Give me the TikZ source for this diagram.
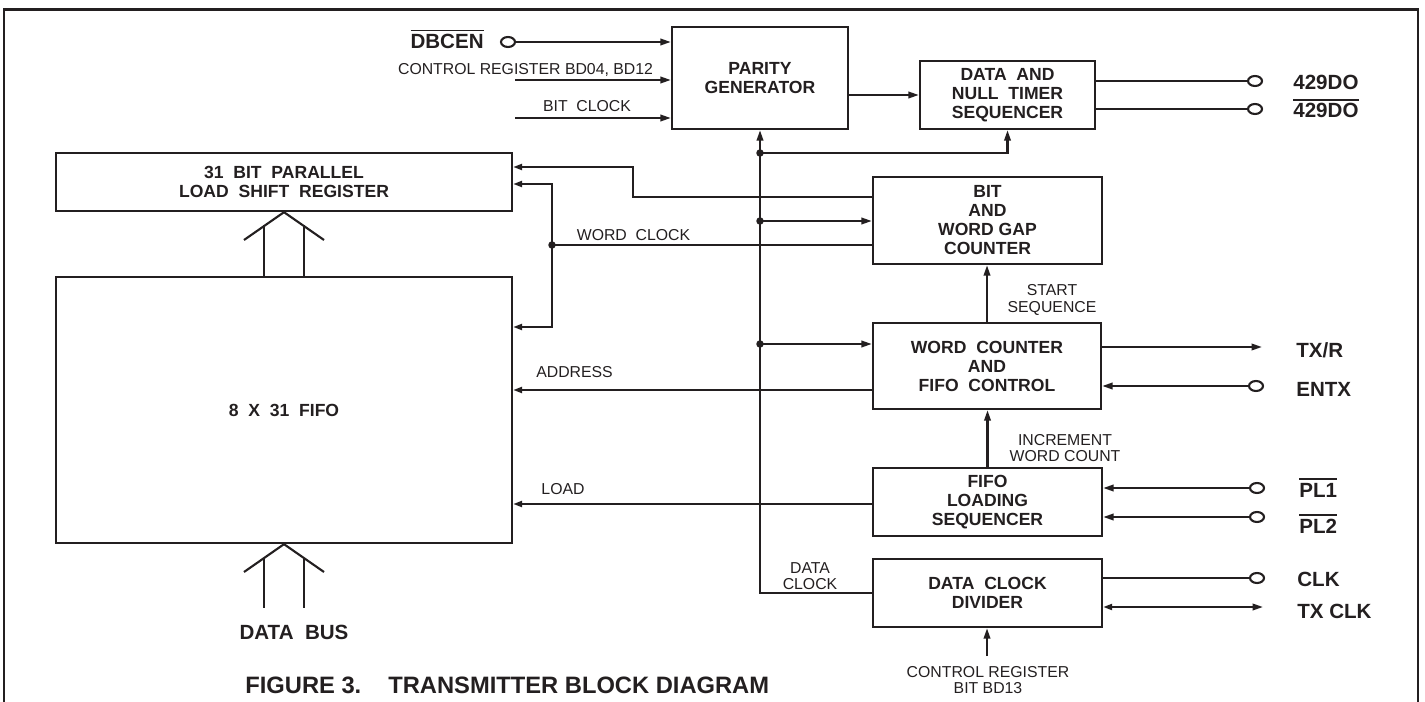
\documentclass[tikz,border=0pt]{standalone}
\usepackage{fontspec}
\setmainfont{Liberation Sans}
\usepackage{xcolor}
\usepackage{tikz}
\usetikzlibrary{shapes.geometric, arrows.meta, positioning, calc}
\definecolor{ink}{RGB}{35,31,32}
\newcommand{\barred}[1]{\vbox{\hrule height 0.9pt\kern 1.6pt\hbox{#1}}}
\tikzset{
  block/.style={rectangle,draw=ink,text=ink,line width=1.35pt,align=center,inner sep=0pt,
    font=\fontsize{10}{10.8}\selectfont\bfseries},
  sig/.style={font=\fontsize{9}{9.2}\selectfont,text=ink,inner sep=0pt,align=center},
  pinlbl/.style={font=\fontsize{11.7}{13}\selectfont\bfseries,text=ink,inner sep=0pt},
  term/.style={ellipse,draw=ink,line width=1.2pt,minimum width=0.28cm,minimum height=0.2cm,inner sep=0pt},
  junc/.style={circle,fill=ink,minimum size=0.15cm,inner sep=0pt},
  arrow/.style={-{Triangle[length=0.21cm,width=0.13cm]},line width=1.2pt,color=ink},
  harrow/.style={-{Triangle[open,length=0.18cm,width=0.12cm]},line width=1.2pt,color=ink},
  line/.style={line width=1.2pt,color=ink}
}
\begin{document}
\begin{tikzpicture}[x=0.02cm,y=-0.02cm]
  \useasboundingbox (0,0) rectangle (1425,702);
  \draw[line width=1.6pt,ink] (4,702) -- (4,9.5) -- (1418,9.5) -- (1418,702);

  % blocks
  \node[block, minimum width=3.52cm, minimum height=2.04cm] (par)  at (760,78)     {PARITY\\GENERATOR};
  \node[block, minimum width=3.5cm,  minimum height=1.36cm] (dns)  at (1007.5,95)  {DATA~~AND\\NULL~~TIMER\\SEQUENCER};
  \node[block, minimum width=9.12cm, minimum height=1.16cm] (shr)  at (284,182)    {31~~BIT~~PARALLEL\\LOAD~~SHIFT~~REGISTER};
  \node[block, minimum width=9.12cm, minimum height=5.32cm] (fifo) at (284,410)    {8~~X~~31~~FIFO};
  \node[block, minimum width=4.58cm, minimum height=1.74cm] (bwg)  at (987.5,220.5){BIT\\AND\\WORD GAP\\COUNTER};
  \node[block, minimum width=4.56cm, minimum height=1.72cm] (wcf)  at (987,366)    {WORD~~COUNTER\\AND\\FIFO~~CONTROL};
  \node[block, minimum width=4.58cm, minimum height=1.36cm] (fls)  at (987.5,502)  {FIFO\\LOADING\\SEQUENCER};
  \node[block, minimum width=4.58cm, minimum height=1.36cm] (dcd)  at (987.5,593)  {DATA~~CLOCK\\DIVIDER};

  % parity inputs
  \node[term] (dbcenT) at (508,42) {};
  \node[pinlbl, anchor=base east] (dbcenL) at (484,48.5) {\barred{DBCEN}};
  \draw[arrow] (dbcenT) -- (par.west |- dbcenT);
  \node[sig, anchor=base] (cregL) at (525.5,75) {CONTROL REGISTER BD04, BD12};
  \coordinate (cregIn) at (515,80);
  \draw[arrow] (cregIn) -- (par.west |- cregIn);
  \node[sig, anchor=base] (bclkL) at (587,112) {BIT~~CLOCK};
  \coordinate (bclkIn) at (515,118);
  \draw[arrow] (bclkIn) -- (par.west |- bclkIn);

  % clock bus
  \node[junc] (j1) at (760,153) {};
  \node[junc] (j2) at (760,221) {};
  \node[junc] (j3) at (760,344) {};
  \coordinate (busBot) at (760,593);
  \draw[arrow] (dcd.west) -- (busBot) -- (par.south);
  \draw[arrow] (j1.center) -| (dns.south);
  \draw[arrow] (j2.center) -- (bwg.west |- j2);
  \draw[arrow] (j3.center) -- (wcf.west |- j3);
  \node[sig] (dclkL) at (810,576) {DATA\\CLOCK};
  \draw[arrow] (par.east |- dns.west) -- (dns.west);

  % to shift register and fifo
  \draw[harrow] (bwg.west |- 0,197) -| (633,167) -- (shr.east |- 0,167);
  \node[junc] (wclk) at (552,245) {};
  \draw[line] (bwg.west |- wclk) -- (wclk.center);
  \draw[harrow] (wclk.center) |- (shr.east |- 0,184);
  \draw[harrow] (wclk.center) |- (fifo.east |- 0,327);
  \node[sig] (wclkL) at (633.5,235) {WORD~~CLOCK};
  \draw[harrow] (wcf.west |- 0,390) -- (fifo.east |- 0,390);
  \node[sig] (addrL) at (574.5,372) {ADDRESS};
  \draw[harrow] (fls.west |- 0,504) -- (fifo.east |- 0,504);
  \node[sig] (loadL) at (563,489) {LOAD};

  % bus arrows
  \draw[line] (244,240) -- (shr.south) -- (324,240);
  \draw[line] (264,225.5) -- (264,277) (304,225.5) -- (304,277);
  \draw[line] (244,572) -- (fifo.south) -- (324,572);
  \draw[line] (264,557.5) -- (264,608) (304,557.5) -- (304,608);
  \node[pinlbl, anchor=base] (busL) at (294,639) {DATA~~BUS};

  % control chain
  \draw[arrow] (wcf.north) -- (wcf.north |- bwg.south);
  \node[sig] (startL) at (1052,300) {START\\SEQUENCE};
  \draw[arrow] (fls.north) -- (fls.north |- wcf.south);
  \node[sig] (incL) at (1065,448) {INCREMENT\\WORD COUNT};
  \coordinate (bd13) at (987,656);
  \draw[arrow] (bd13) -- (bd13 |- dcd.south);
  \node[sig] (bd13L) at (988,680) {CONTROL REGISTER\\BIT BD13};

  % pins
  \node[term] (doT)  at (1255,81)  {};
  \node[term] (donT) at (1255,109) {};
  \draw[line] (dns.east |- doT) -- (doT);
  \draw[line] (dns.east |- donT) -- (donT);
  \node[pinlbl, anchor=base west] (doL)  at (1293,89.5) {429DO};
  \node[pinlbl, anchor=base west] (donL) at (1293,118)  {\barred{429DO}};
  \coordinate (txr) at (1262,347);
  \draw[arrow] (wcf.east |- txr) -- (txr);
  \node[pinlbl, anchor=base west] (txrL) at (1296,357) {TX/R};
  \node[term] (entxT) at (1256,386) {};
  \draw[arrow] (entxT) -- (wcf.east |- entxT);
  \node[pinlbl, anchor=base west] (entxL) at (1296,396) {ENTX};
  \node[term] (pl1T) at (1257,488) {};
  \node[term] (pl2T) at (1257,517) {};
  \draw[arrow] (pl1T) -- (fls.east |- pl1T);
  \draw[arrow] (pl2T) -- (fls.east |- pl2T);
  \node[pinlbl, anchor=base west] (pl1L) at (1299,497) {\barred{PL1}};
  \node[pinlbl, anchor=base west] (pl2L) at (1299,533) {\barred{PL2}};
  \node[term] (clkT) at (1257,578) {};
  \draw[line] (dcd.east |- clkT) -- (clkT);
  \node[pinlbl, anchor=base west] (clkL) at (1297,586) {CLK};
  \coordinate (txclk) at (1263,607);
  \draw[line, {Triangle[open,length=0.18cm,width=0.12cm]}-{Triangle[length=0.21cm,width=0.13cm]}]
    (dcd.east |- txclk) -- (txclk);
  \node[pinlbl, anchor=base west] (txclkL) at (1297,618) {TX CLK};

  % caption
  \node[font=\fontsize{13.5}{16}\selectfont\bfseries, text=ink, inner sep=0pt, anchor=base west] (figL) at (245,693) {FIGURE 3.};
  \node[font=\fontsize{13.5}{16}\selectfont\bfseries, text=ink, inner sep=0pt, anchor=base west] (capL) at (388,693) {TRANSMITTER BLOCK DIAGRAM};
\end{tikzpicture}
\end{document}
